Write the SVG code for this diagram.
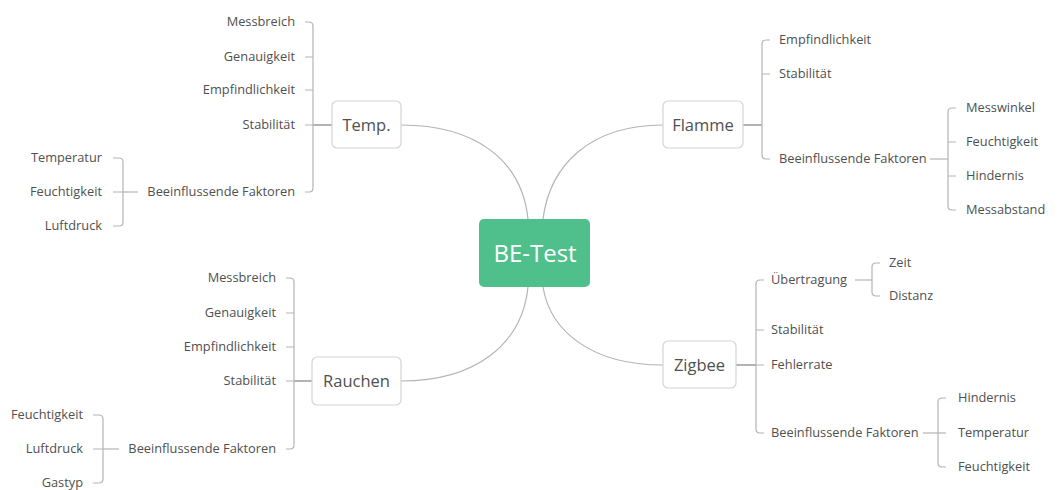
<svg xmlns="http://www.w3.org/2000/svg" width="1061" height="490" viewBox="0 0 1061 490">
<style>
.c{fill:none;stroke:#b4b4b4;stroke-width:1.2}
.m{fill:none;stroke:#a0a0a0;stroke-width:1.6}
.b{fill:#fff;stroke:#d4d4d4;stroke-width:1.2}
.t{font-family:"Open Sans","Noto Sans",sans-serif;font-size:12.8px;fill:#505050}
.e{text-anchor:end}
.n{font-family:"Open Sans","Noto Sans",sans-serif;font-size:16.5px;fill:#505050;text-anchor:middle}
.r{font-family:"Open Sans","Noto Sans",sans-serif;font-size:24px;fill:#fff;text-anchor:middle}
</style>
<rect width="1061" height="490" fill="#fff"/>
<g id="connectors">
<path class="c" d="M401,125 C475,125 522,160 528,219"/>
<path class="c" d="M663,125 C590,125 550,165 543,219"/>
<path class="c" d="M401,381 C475,381 522,345 528,287"/>
<path class="c" d="M663,365 C590,365 550,330 543,287"/>
<path class="m" d="M332,125 H313"/>
<path class="c" d="M305,22 H309 Q313,22 313,26 V188 Q313,192 309,192 H305 M305,57 H313 M305,90 H313 M305,125 H313"/>
<path class="c" d="M138,192 H123"/>
<path class="c" d="M113,158 H119 Q123,158 123,162 V222 Q123,226 119,226 H113 M113,192 H123"/>
<path class="m" d="M312,381 H294"/>
<path class="c" d="M286,278 H290 Q294,278 294,282 V445 Q294,449 290,449 H286 M286,313 H294 M286,347 H294 M286,381 H294"/>
<path class="c" d="M119,449 H103"/>
<path class="c" d="M93,415 H99 Q103,415 103,419 V479 Q103,483 99,483 H93 M93,449 H103"/>
<path class="m" d="M743,125 H762"/>
<path class="c" d="M770,40 H766 Q762,40 762,44 V155 Q762,159 766,159 H770 M762,74 H770"/>
<path class="c" d="M930,159 H948"/>
<path class="c" d="M956,108 H952 Q948,108 948,112 V206 Q948,210 952,210 H956 M948,142 H956 M948,176 H956"/>
<path class="m" d="M736,365 H756"/>
<path class="c" d="M764,280 H760 Q756,280 756,284 V429 Q756,433 760,433 H764 M756,330 H764 M756,365 H764"/>
<path class="c" d="M855,280 H872"/>
<path class="c" d="M880,263 H876 Q872,263 872,267 V292 Q872,296 876,296 H880"/>
<path class="c" d="M923,433 H946"/>
<path class="c" d="M946,398 H942 Q938,398 938,402 V463 Q938,467 942,467 H946"/>
</g>
<g id="center">
<rect x="479" y="219" width="111" height="68" rx="5" fill="#4fc08c"/>
<text class="r" x="535" y="262">BE-Test</text>
</g>
<g id="temp">
<rect class="b" x="332" y="101" width="69" height="47" rx="5"/>
<text class="n" x="366.5" y="131">Temp.</text>
<text class="t e" x="295" y="22" dy=".35em">Messbreich</text>
<text class="t e" x="295" y="57" dy=".35em">Genauigkeit</text>
<text class="t e" x="295" y="90" dy=".35em">Empfindlichkeit</text>
<text class="t e" x="295" y="125" dy=".35em">Stabilität</text>
<text class="t e" x="295" y="192" dy=".35em">Beeinflussende Faktoren</text>
<text class="t e" x="102" y="158" dy=".35em">Temperatur</text>
<text class="t e" x="102" y="192" dy=".35em">Feuchtigkeit</text>
<text class="t e" x="102" y="226" dy=".35em">Luftdruck</text>
</g>
<g id="rauchen">
<rect class="b" x="312" y="357" width="89" height="48" rx="5"/>
<text class="n" x="356.5" y="387">Rauchen</text>
<text class="t e" x="276" y="278" dy=".35em">Messbreich</text>
<text class="t e" x="276" y="313" dy=".35em">Genauigkeit</text>
<text class="t e" x="276" y="347" dy=".35em">Empfindlichkeit</text>
<text class="t e" x="276" y="381" dy=".35em">Stabilität</text>
<text class="t e" x="276" y="449" dy=".35em">Beeinflussende Faktoren</text>
<text class="t e" x="83" y="415" dy=".35em">Feuchtigkeit</text>
<text class="t e" x="83" y="449" dy=".35em">Luftdruck</text>
<text class="t e" x="83" y="483" dy=".35em">Gastyp</text>
</g>
<g id="flamme">
<rect class="b" x="663" y="101" width="80" height="47" rx="5"/>
<text class="n" x="703" y="131">Flamme</text>
<text class="t" x="779" y="40" dy=".35em">Empfindlichkeit</text>
<text class="t" x="779" y="74" dy=".35em">Stabilität</text>
<text class="t" x="779" y="159" dy=".35em">Beeinflussende Faktoren</text>
<text class="t" x="966" y="108" dy=".35em">Messwinkel</text>
<text class="t" x="966" y="142" dy=".35em">Feuchtigkeit</text>
<text class="t" x="966" y="176" dy=".35em">Hindernis</text>
<text class="t" x="966" y="210" dy=".35em">Messabstand</text>
</g>
<g id="zigbee">
<rect class="b" x="663" y="341" width="73" height="47" rx="5"/>
<text class="n" x="699.5" y="371">Zigbee</text>
<text class="t" x="771" y="280" dy=".35em">Übertragung</text>
<text class="t" x="771" y="330" dy=".35em">Stabilität</text>
<text class="t" x="771" y="365" dy=".35em">Fehlerrate</text>
<text class="t" x="771" y="433" dy=".35em">Beeinflussende Faktoren</text>
<text class="t" x="889" y="263" dy=".35em">Zeit</text>
<text class="t" x="889" y="296" dy=".35em">Distanz</text>
<text class="t" x="958" y="398" dy=".35em">Hindernis</text>
<text class="t" x="958" y="433" dy=".35em">Temperatur</text>
<text class="t" x="958" y="467" dy=".35em">Feuchtigkeit</text>
</g>
</svg>
